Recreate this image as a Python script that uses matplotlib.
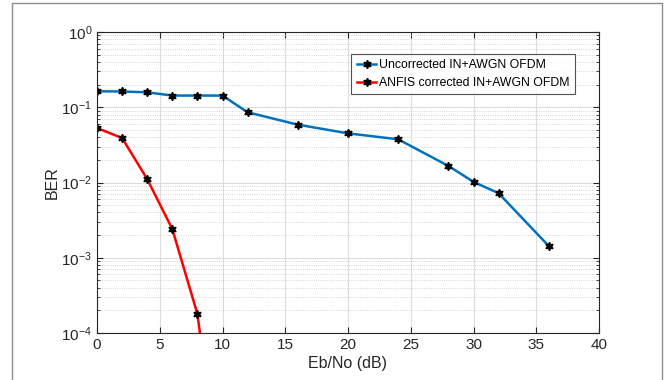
import matplotlib.pyplot as plt
from matplotlib.patches import Rectangle
from matplotlib.ticker import LogLocator, NullFormatter

plt.rcParams['font.family'] = ['Liberation Sans', 'DejaVu Sans']
plt.rcParams['axes.unicode_minus'] = False

# Eb/No points and measured bit error rates
snr_unc = [0, 2, 4, 6, 8, 10, 12, 16, 20, 24, 28, 30, 32, 36]
ber_unc = [0.163, 0.162, 0.158, 0.143, 0.143, 0.143, 0.0857, 0.0587,
           0.045, 0.0375, 0.0166, 0.0102, 0.0072, 0.00143]

snr_anfis = [0, 2, 4, 6, 8, 10]
ber_anfis = [0.053, 0.039, 0.0111, 0.00241, 0.000179, 5.6e-7]

labels = ['Uncorrected IN+AWGN OFDM', 'ANFIS corrected IN+AWGN OFDM']

fig = plt.figure(figsize=(6.67, 3.8), dpi=100)
ax = fig.add_axes([97/667, 1 - 333/380, (599-97)/667, (333-32)/380])

star = (6, 1, 0)
ax.plot(snr_unc, ber_unc, color='#0072BD', lw=1.8, marker=star, ms=6,
        mfc='black', mec='black', label=labels[0])
ax.plot(snr_anfis, ber_anfis, color='#FF0000', lw=1.8, marker=star, ms=6,
        mfc='black', mec='black', label=labels[1])

ax.set_yscale('log')
ax.set_xlim(0, 40)
ax.set_ylim(1e-4, 1)
ax.set_xticks(range(0, 41, 5))
ax.yaxis.set_major_locator(LogLocator(base=10, numticks=10))
ax.yaxis.set_minor_locator(LogLocator(base=10, subs=range(2, 10), numticks=10))
ax.yaxis.set_minor_formatter(NullFormatter())

ax.grid(True, which='major', color='#dcdcdc', lw=0.8)
ax.grid(True, which='minor', axis='y', color='#c8c8c8', lw=0.6, ls=':')
ax.set_axisbelow(True)
ax.tick_params(which='both', direction='in', top=True, right=True,
               labelsize=11, colors='#262626')
ax.tick_params(which='major', length=4)
ax.tick_params(which='minor', length=2)
for s in ax.spines.values():
    s.set_color('#262626')
    s.set_linewidth(0.8)

ax.set_xlabel('Eb/No (dB)', fontsize=11.5, color='#262626', labelpad=3)
ax.set_ylabel('BER', fontsize=11.5, color='#262626', labelpad=1)

leg = ax.legend(loc='upper right', bbox_to_anchor=(0.952, 0.927), fontsize=8.8,
                frameon=True, fancybox=False, handlelength=1.6,
                handletextpad=0.2, borderpad=0.45, labelspacing=0.45,
                borderaxespad=0)
leg.get_frame().set_edgecolor('#262626')
leg.get_frame().set_linewidth(0.8)

# outer gray frame around the figure
fig.patches.append(Rectangle((12/667, -0.05), (662-12)/667, 1 - 3/380 + 0.05,
                             transform=fig.transFigure, fill=False,
                             edgecolor='#8c8c8c', lw=1.0, clip_on=False))

fig.savefig('out.png', dpi=100)
